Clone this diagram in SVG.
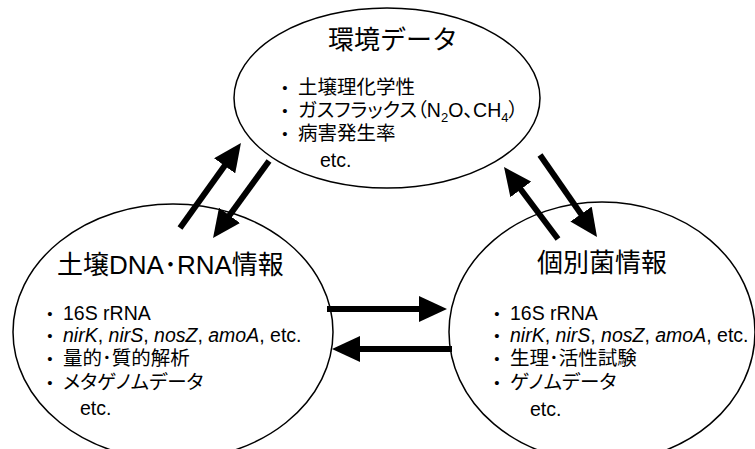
<svg xmlns="http://www.w3.org/2000/svg" width="755" height="449" viewBox="0 0 755 449">
<style>
.t{font-family:"Liberation Sans","Noto Sans CJK JP",sans-serif;fill:#000}
.title{font-size:26px}
.body{font-size:19.5px;font-feature-settings:"palt"}
.bul{font-size:15px;text-anchor:middle}
.ell{fill:#fff;stroke:#000;stroke-width:1.5}
.arr{stroke:#000;stroke-width:6;fill:none;marker-end:url(#ah)}
</style>
<defs>
<marker id="ah" markerUnits="userSpaceOnUse" viewBox="0 0 28 26" refX="8" refY="13" markerWidth="28" markerHeight="26" orient="auto">
<path d="M0,0 L28,13 L0,26 Z" fill="#000"/>
</marker>
</defs>
<rect width="755" height="449" fill="#fff"/>

<g id="env">
<ellipse class="ell" cx="387" cy="98" rx="153" ry="90"/>
<text class="t title" x="393" y="49" text-anchor="middle">環境データ</text>
<text class="t bul" x="285" y="93">•</text>
<text class="t bul" x="285" y="116">•</text>
<text class="t bul" x="285" y="139">•</text>
<text class="t body" x="298" y="94">土壌理化学性</text>
<text class="t body" x="298" y="117">ガスフラックス（N<tspan font-size="13" dy="5">2</tspan><tspan dy="-5">O、CH</tspan><tspan font-size="13" dy="5">4</tspan><tspan dy="-5">）</tspan></text>
<text class="t body" x="298" y="140">病害発生率</text>
<text class="t body" x="320" y="167">etc.</text>
</g>

<g id="soil">
<ellipse class="ell" cx="173" cy="332" rx="160" ry="128"/>
<text class="t title" x="57" y="274">土壌DNA･RNA情報</text>
<text class="t bul" x="50" y="319">•</text>
<text class="t bul" x="50" y="341">•</text>
<text class="t bul" x="50" y="364">•</text>
<text class="t bul" x="50" y="388">•</text>
<text class="t body" x="63" y="320">16S rRNA</text>
<text class="t body" x="63" y="342"><tspan font-style="italic">nirK</tspan>, <tspan font-style="italic">nirS</tspan>, <tspan font-style="italic">nosZ</tspan>, <tspan font-style="italic">amoA</tspan>, etc.</text>
<text class="t body" x="63" y="365">量的･質的解析</text>
<text class="t body" x="63" y="389">メタゲノムデータ</text>
<text class="t body" x="80" y="415">etc.</text>
</g>

<g id="bact">
<ellipse class="ell" cx="602" cy="332" rx="153" ry="130"/>
<text class="t title" x="602" y="272" text-anchor="middle">個別菌情報</text>
<text class="t bul" x="497" y="319">•</text>
<text class="t bul" x="497" y="341">•</text>
<text class="t bul" x="497" y="364">•</text>
<text class="t bul" x="497" y="388">•</text>
<text class="t body" x="510" y="320">16S rRNA</text>
<text class="t body" x="510" y="342"><tspan font-style="italic">nirK</tspan>, <tspan font-style="italic">nirS</tspan>, <tspan font-style="italic">nosZ</tspan>, <tspan font-style="italic">amoA</tspan>, etc.</text>
<text class="t body" x="510" y="365">生理･活性試験</text>
<text class="t body" x="510" y="389">ゲノムデータ</text>
<text class="t body" x="530" y="416">etc.</text>
</g>

<g id="connectors">
<line class="arr" x1="180" y1="228" x2="229.3" y2="159.3"/>
<line class="arr" x1="269" y1="161" x2="224.8" y2="221.8"/>
<line class="arr" x1="558" y1="239" x2="516" y2="183"/>
<line class="arr" x1="540" y1="155" x2="585.6" y2="220.6"/>
<line class="arr" x1="327" y1="309" x2="427" y2="309"/>
<line class="arr" x1="452" y1="349" x2="352" y2="349"/>
</g>
</svg>
